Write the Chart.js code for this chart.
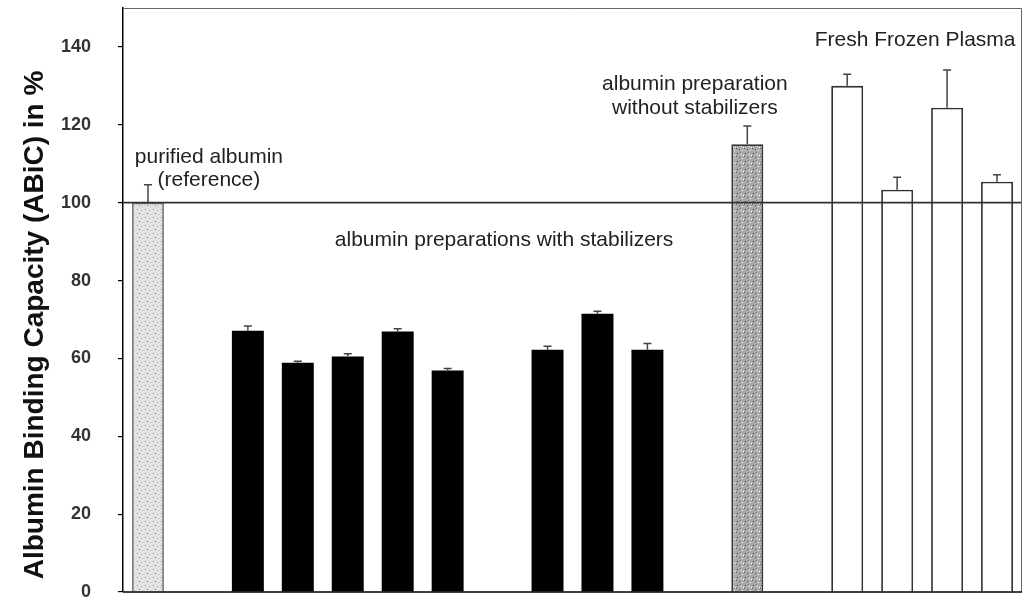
<!DOCTYPE html>
<html>
<head>
<meta charset="utf-8">
<script src="https://cdn.jsdelivr.net/npm/chart.js@4.4.0/dist/chart.umd.min.js"></script>
<style>
  html, body { margin: 0; padding: 0; background: #fff; }
  #wrap { width: 1025px; height: 600px; position: relative; }
</style>
</head>
<body>
<div id="wrap"><canvas id="abicChart" width="1025" height="600"></canvas></div>
<script>
// slots along the x axis (empty slots are the gaps between groups)
const slotLabels = ["Reference", "", "S1", "S2", "S3", "S4", "S5", "", "S6", "S7", "S8", "", "No stabilizer", "", "FFP1", "FFP2", "FFP3", "FFP4"];
const slotGroups = ["ref", null, "stab", "stab", "stab", "stab", "stab", null, "stab", "stab", "stab", null, "nostab", null, "ffp", "ffp", "ffp", "ffp"];
const abicMean  = [100, null, 67.1, 58.9, 60.5, 66.9, 56.9, null, 62.2, 71.5, 62.2, null, 115.0, null, 130.0, 103.3, 124.4, 105.4];
const abicError = [4.6, null, 1.2, 0.4, 0.7, 0.7, 0.5, null, 0.9, 0.6, 1.6, null, 4.7, null, 3.0, 3.2, 9.7, 1.8];
const yTicks = [0, 20, 40, 60, 80, 100, 120, 140];
const referenceLevel = 100;

const annotations = [
  { lines: ["purified albumin", "(reference)"], slot: 1.22, value: 111.8 },
  { lines: ["albumin preparations with stabilizers"], slot: 7.13, value: 90.3 },
  { lines: ["albumin preparation", "without stabilizers"], slot: 10.95, value: 130.3 },
  { lines: ["Fresh Frozen Plasma"], slot: 15.36, value: 141.8 }
];

// stipple fills
function stipple(bg, dots, size) {
  const c = document.createElement("canvas");
  c.width = size; c.height = size;
  const g = c.getContext("2d");
  g.fillStyle = bg;
  g.fillRect(0, 0, size, size);
  dots.forEach(d => {
    g.fillStyle = d[2];
    g.fillRect(d[0], d[1], 1, 1);
  });
  return g.createPattern(c, "repeat");
}
const ctx = document.getElementById("abicChart").getContext("2d");
const lightFill = stipple("#e4e4e4", [[1, 1, "#8a8a8a"], [5, 2, "#a0a0a0"], [3, 5, "#7a7a7a"], [6, 6, "#b0b0b0"], [0, 4, "#c8c8c8"]], 8);
const darkFill = stipple("#ababab", [[1, 1, "#333"], [5, 2, "#fff"], [3, 5, "#444"], [6, 6, "#eee"], [0, 4, "#555"], [4, 0, "#777"], [7, 3, "#fff"]], 8);

const fillFor = { ref: lightFill, stab: "#000", nostab: darkFill, ffp: "#fff" };
const edgeFor = { ref: "#777", stab: "#000", nostab: "#333", ffp: "#333" };

const extras = {
  id: "extras",
  afterDatasetsDraw(chart) {
    const { ctx, chartArea: a, scales: { x, y } } = chart;
    ctx.save();
    // error bars (upper only)
    ctx.strokeStyle = "#444";
    ctx.lineWidth = 1.5;
    abicMean.forEach((m, i) => {
      if (m == null) return;
      const cx = x.getPixelForValue(i);
      const y0 = y.getPixelForValue(m);
      const y1 = y.getPixelForValue(m + abicError[i]);
      ctx.beginPath();
      ctx.moveTo(cx, y0); ctx.lineTo(cx, y1);
      ctx.moveTo(cx - 4, y1); ctx.lineTo(cx + 4, y1);
      ctx.stroke();
    });
    // reference line
    const ry = y.getPixelForValue(referenceLevel);
    ctx.strokeStyle = "#333";
    ctx.lineWidth = 1.8;
    ctx.beginPath();
    ctx.moveTo(a.left, ry); ctx.lineTo(a.right, ry);
    ctx.stroke();
    // frame top / right
    ctx.strokeStyle = "#666";
    ctx.lineWidth = 1;
    ctx.beginPath();
    ctx.moveTo(a.left, a.top + 0.5); ctx.lineTo(a.right - 0.5, a.top + 0.5); ctx.lineTo(a.right - 0.5, a.bottom);
    ctx.stroke();
    ctx.strokeStyle = "#000";
    ctx.lineWidth = 1.5;
    ctx.beginPath();
    ctx.moveTo(a.left, a.bottom); ctx.lineTo(a.right, a.bottom);
    ctx.stroke();
    // group labels
    ctx.fillStyle = "#222";
    ctx.font = "21px 'Liberation Sans', Arial, sans-serif";
    ctx.textAlign = "center";
    ctx.textBaseline = "middle";
    const step = x.getPixelForValue(1) - x.getPixelForValue(0);
    annotations.forEach(t => {
      const tx = x.getPixelForValue(0) + t.slot * step;
      const ty = y.getPixelForValue(t.value);
      t.lines.forEach((line, k) => ctx.fillText(line, tx, ty + k * 23.5));
    });
    // y axis title
    ctx.font = "bold 28px 'Liberation Sans', Arial, sans-serif";
    ctx.fillStyle = "#111";
    ctx.translate(35, 325);
    ctx.rotate(-Math.PI / 2);
    ctx.fillText("Albumin Binding Capacity (ABiC) in %", 0, 0);
    ctx.restore();
  }
};

new Chart(ctx, {
  type: "bar",
  data: {
    labels: slotLabels,
    datasets: [{
      data: abicMean,
      backgroundColor: slotGroups.map(g => g ? fillFor[g] : "#fff"),
      borderColor: slotGroups.map(g => g ? edgeFor[g] : "#fff"),
      borderWidth: slotGroups.map(g => g === "stab" ? 0 : 1.8),
      borderSkipped: "bottom",
      categoryPercentage: 1,
      barPercentage: 0.64
    }]
  },
  options: {
    responsive: false,
    animation: false,
    layout: { padding: { top: 8, bottom: 8, right: 3, left: 0 } },
    plugins: { legend: { display: false }, tooltip: { enabled: false } },
    scales: {
      x: { display: false },
      y: {
        min: 0,
        max: 150,
        afterBuildTicks: axis => { axis.ticks = yTicks.map(v => ({ value: v })); },
        afterFit: axis => {
          axis.width = 123;
          axis.paddingTop = 0;
          axis.paddingBottom = 0;
        },
        ticks: {
          padding: 27,
          color: "#333",
          font: { family: "'Liberation Sans', Arial, sans-serif", size: 18, weight: "bold" }
        },
        grid: { drawOnChartArea: false, drawTicks: true, tickLength: 5, color: "#000", lineWidth: 1.2 },
        border: { display: true, color: "#000", width: 1.5 }
      }
    }
  },
  plugins: [extras]
});
</script>
</body>
</html>
